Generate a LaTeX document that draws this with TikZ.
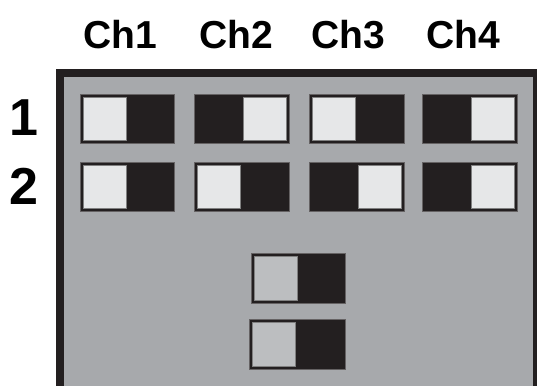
\documentclass[tikz,border=0pt]{standalone}
\usepackage{fontspec}
\setmainfont{Liberation Sans}
\definecolor{boardgray}{HTML}{A7A9AC}
\definecolor{swblack}{HTML}{231F20}
\definecolor{knoblight}{HTML}{E6E7E8}
\definecolor{knobdim}{HTML}{BCBEC0}
\tikzset{
  swbody/.style={fill=swblack,draw=swblack!70!white,line width=0.8pt},
  knob/.style={fill=knoblight,draw=gray,line width=0.8pt},
  dimknob/.style={fill=knobdim,draw=gray,line width=0.8pt},
  chlabel/.style={anchor=base,font=\fontsize{39}{39}\selectfont\bfseries},
  rowlabel/.style={anchor=base,font=\fontsize{52}{52}\selectfont\bfseries}
}
\begin{document}
\begin{tikzpicture}[x=1pt,y=-1pt]
\useasboundingbox (0,0) rectangle (537,385);
\clip (0,0) rectangle (537,385);
% board
\fill[swblack] (56,69) rectangle (541,400);
\fill[boardgray] (64,77) rectangle (533,400);
% channel and row labels
\node[chlabel] (ch1) at (120,49) {Ch1};
\node[chlabel] (ch2) at (236,49) {Ch2};
\node[chlabel] (ch3) at (348,49) {Ch3};
\node[chlabel] (ch4) at (463,49) {Ch4};
\node[rowlabel] (row1) at (24,135) {1};
\node[rowlabel] (row2) at (24,204) {2};
% row 1
\draw[swbody] (80,94) rectangle (174,143);
\draw[knob] (83,97) rectangle (126,140);
\draw[swbody] (194,94) rectangle (289,143);
\draw[knob] (243,97) rectangle (286,140);
\draw[swbody] (309,94) rectangle (404,143);
\draw[knob] (312,97) rectangle (355,140);
\draw[swbody] (422,94) rectangle (517,143);
\draw[knob] (471,97) rectangle (514,140);
% row 2
\draw[swbody] (80,162) rectangle (174,211);
\draw[knob] (83,165) rectangle (126,208);
\draw[swbody] (194,162) rectangle (289,211);
\draw[knob] (197,165) rectangle (240,208);
\draw[swbody] (309,162) rectangle (404,211);
\draw[knob] (358,165) rectangle (401,208);
\draw[swbody] (422,162) rectangle (517,211);
\draw[knob] (471,165) rectangle (514,208);
% lower switches
\draw[swbody] (251,253) rectangle (345,303);
\draw[dimknob] (254,256) rectangle (297,300);
\draw[swbody] (249,319) rectangle (345,369);
\draw[dimknob] (252,322) rectangle (295,366);
\end{tikzpicture}
\end{document}
